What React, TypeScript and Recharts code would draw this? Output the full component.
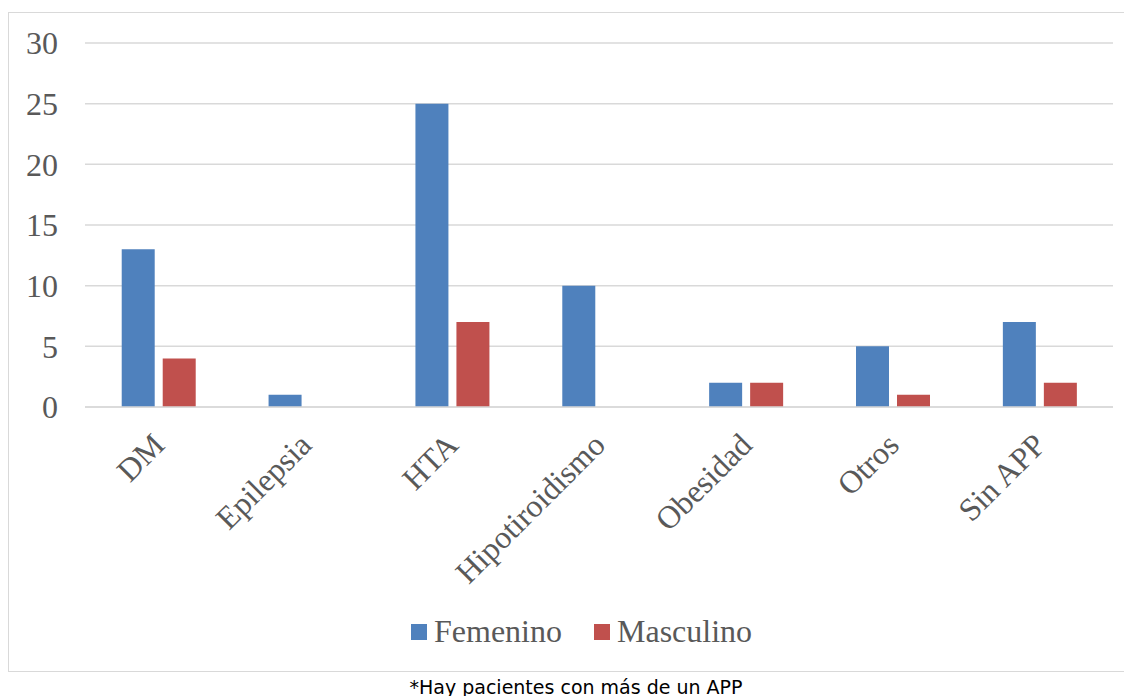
import React from 'react';
import { BarChart, Bar, XAxis, YAxis, CartesianGrid, Legend } from 'recharts';

const categories = ['DM', 'Epilepsia', 'HTA', 'Hipotiroidismo', 'Obesidad', 'Otros', 'Sin APP'];
const femenino = [13, 1, 25, 10, 2, 5, 7];
const masculino = [4, 0, 7, 0, 2, 1, 2];
const yTicks = [0, 5, 10, 15, 20, 25, 30];

const series = [
    { key: 'femenino', name: 'Femenino', color: '#4f81bd' },
    { key: 'masculino', name: 'Masculino', color: '#c0504d' },
];

const data = categories.map((c, i) => ({ name: c, femenino: femenino[i], masculino: masculino[i] }));

const serif = '"Liberation Serif", "Times New Roman", serif';

const CategoryTick = (props: any) => {
    const { x, y, payload } = props;
    const tx = x + 8;
    const ty = y + 32;
    return (
        <text x={tx} y={ty} textAnchor="end" fill="#595959" fontSize={32} fontFamily={serif}
            transform={`rotate(-45, ${tx}, ${ty})`}>
            {payload.value}
        </text>
    );
};

const renderLegend = () => (
    <div style={{ display: 'flex', paddingLeft: 402, height: 37, alignItems: 'center', fontFamily: serif, fontSize: 32, color: '#595959' }}>
        {series.map((s) => (
            <div key={s.key} style={{ display: 'flex', alignItems: 'center', marginRight: 32 }}>
                <span style={{ display: 'inline-block', width: 16, height: 16, background: s.color, marginRight: 7 }} />
                <span>{s.name}</span>
            </div>
        ))}
    </div>
);

const App: React.FC = () => {
    return (
        <div style={{ position: 'relative', width: 1124, height: 690 }}>
            <div style={{ position: 'absolute', left: 0, top: 4, width: 1124, height: 660, border: '1px solid #d9d9d9', borderRight: 'none', boxSizing: 'border-box', background: '#fff' }}>
                <BarChart width={1124} height={658} data={data}
                    margin={{ top: 30, right: 20, left: 0, bottom: 21 }}
                    barCategoryGap="25%" barGap={8}>
                    <CartesianGrid vertical={false} stroke="#d9d9d9" strokeWidth={1.5} />
                    <XAxis dataKey="name" height={206} tickLine={false} axisLine={{ stroke: '#d9d9d9', strokeWidth: 1.5 }}
                        tick={<CategoryTick />} interval={0} />
                    <YAxis width={76} domain={[0, 30]} ticks={yTicks} tickLine={false} axisLine={false} tickMargin={21}
                        tick={{ fill: '#595959', fontSize: 32, fontFamily: serif }} />
                    <Legend verticalAlign="bottom" content={renderLegend} />
                    {series.map((s) => (
                        <Bar key={s.key} dataKey={s.key} name={s.name} fill={s.color} isAnimationActive={false} />
                    ))}
                </BarChart>
            </div>
            <div style={{ position: 'absolute', left: 0, top: 668, width: 1136, textAlign: 'center', fontFamily: '"DejaVu Sans", Verdana, sans-serif', fontSize: 19, color: '#000' }}>
                *Hay pacientes con más de un APP
            </div>
        </div>
    );
};

export default App;
